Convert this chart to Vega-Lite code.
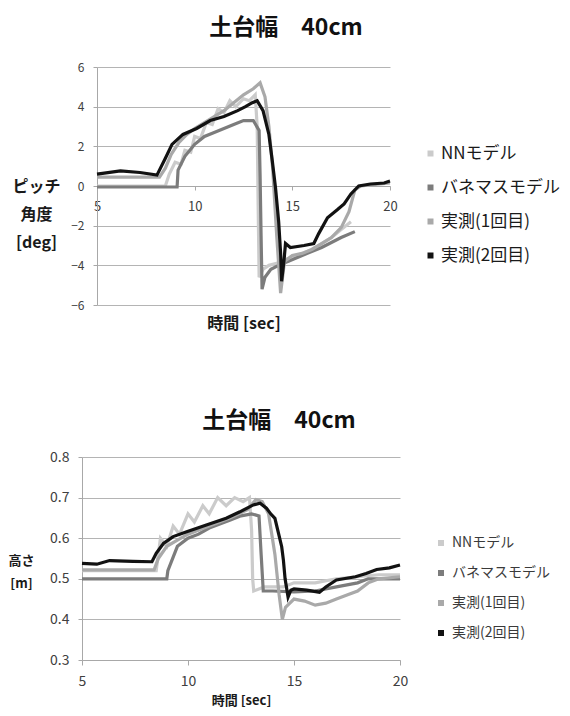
{
  "$schema": "https://vega.github.io/schema/vega-lite/v6.json",
  "background": "white",
  "padding": {"left": 7, "top": 17, "right": 5, "bottom": 5},
  "spacing": 79,
  "config": {
    "font": "Noto Sans CJK JP",
    "view": {"stroke": null},
    "axis": {"gridColor": "#b4b4b4", "domainColor": "#a8a8a8", "tickColor": "#a8a8a8", "labelColor": "#404040", "titleColor": "#1a1a1a", "labelFont": "Noto Sans CJK JP"}
  },
  "resolve": {"scale": {"color": "independent"}, "legend": {"color": "independent"}},
  "datasets": {
    "pitch": [
      {"s": "NNモデル", "t": 5, "v": 0}, {"s": "NNモデル", "t": 8.5, "v": 0}, {"s": "NNモデル", "t": 8.7, "v": 0.6}, {"s": "NNモデル", "t": 9.0, "v": 1.2}, {"s": "NNモデル", "t": 9.3, "v": 1.1}, {"s": "NNモデル", "t": 9.5, "v": 1.8}, {"s": "NNモデル", "t": 9.8, "v": 1.7}, {"s": "NNモデル", "t": 10, "v": 2.5}, {"s": "NNモデル", "t": 10.3, "v": 2.4}, {"s": "NNモデル", "t": 10.6, "v": 3.2}, {"s": "NNモデル", "t": 10.9, "v": 3.1}, {"s": "NNモデル", "t": 11.2, "v": 3.9}, {"s": "NNモデル", "t": 11.5, "v": 3.7}, {"s": "NNモデル", "t": 11.8, "v": 4.3}, {"s": "NNモデル", "t": 12.1, "v": 4.0}, {"s": "NNモデル", "t": 12.5, "v": 4.4}, {"s": "NNモデル", "t": 12.8, "v": 4.3}, {"s": "NNモデル", "t": 13.1, "v": 4.6}, {"s": "NNモデル", "t": 13.2, "v": 3.0}, {"s": "NNモデル", "t": 13.25, "v": -1.0}, {"s": "NNモデル", "t": 13.3, "v": -4.6}, {"s": "NNモデル", "t": 13.5, "v": -4.2}, {"s": "NNモデル", "t": 13.8, "v": -4.0}, {"s": "NNモデル", "t": 14.2, "v": -3.9}, {"s": "NNモデル", "t": 14.6, "v": -3.7}, {"s": "NNモデル", "t": 15, "v": -3.6}, {"s": "NNモデル", "t": 15.5, "v": -3.4}, {"s": "NNモデル", "t": 16, "v": -3.2}, {"s": "NNモデル", "t": 16.5, "v": -2.9}, {"s": "NNモデル", "t": 17, "v": -2.6}, {"s": "NNモデル", "t": 17.5, "v": -2.2}, {"s": "NNモデル", "t": 18.0, "v": -1.8},
      {"s": "バネマスモデル", "t": 5, "v": -0.05}, {"s": "バネマスモデル", "t": 9.1, "v": -0.05}, {"s": "バネマスモデル", "t": 9.15, "v": 0.8}, {"s": "バネマスモデル", "t": 9.5, "v": 1.5}, {"s": "バネマスモデル", "t": 10, "v": 2.1}, {"s": "バネマスモデル", "t": 10.5, "v": 2.5}, {"s": "バネマスモデル", "t": 11, "v": 2.7}, {"s": "バネマスモデル", "t": 11.5, "v": 2.9}, {"s": "バネマスモデル", "t": 12, "v": 3.1}, {"s": "バネマスモデル", "t": 12.5, "v": 3.3}, {"s": "バネマスモデル", "t": 13.0, "v": 3.3}, {"s": "バネマスモデル", "t": 13.3, "v": 2.8}, {"s": "バネマスモデル", "t": 13.35, "v": 0.5}, {"s": "バネマスモデル", "t": 13.4, "v": -2.5}, {"s": "バネマスモデル", "t": 13.45, "v": -5.2}, {"s": "バネマスモデル", "t": 13.6, "v": -4.6}, {"s": "バネマスモデル", "t": 13.9, "v": -4.2}, {"s": "バネマスモデル", "t": 14.3, "v": -4.0}, {"s": "バネマスモデル", "t": 14.8, "v": -3.8}, {"s": "バネマスモデル", "t": 15.5, "v": -3.5}, {"s": "バネマスモデル", "t": 16.5, "v": -3.1}, {"s": "バネマスモデル", "t": 17.5, "v": -2.6}, {"s": "バネマスモデル", "t": 18.2, "v": -2.3},
      {"s": "実測(1回目)", "t": 5, "v": 0.45}, {"s": "実測(1回目)", "t": 8.2, "v": 0.45}, {"s": "実測(1回目)", "t": 8.5, "v": 0.9}, {"s": "実測(1回目)", "t": 8.8, "v": 1.6}, {"s": "実測(1回目)", "t": 9.2, "v": 2.2}, {"s": "実測(1回目)", "t": 9.6, "v": 2.6}, {"s": "実測(1回目)", "t": 10, "v": 2.9}, {"s": "実測(1回目)", "t": 10.5, "v": 3.2}, {"s": "実測(1回目)", "t": 11, "v": 3.5}, {"s": "実測(1回目)", "t": 11.5, "v": 3.8}, {"s": "実測(1回目)", "t": 12, "v": 4.2}, {"s": "実測(1回目)", "t": 12.5, "v": 4.6}, {"s": "実測(1回目)", "t": 13, "v": 4.9}, {"s": "実測(1回目)", "t": 13.35, "v": 5.2}, {"s": "実測(1回目)", "t": 13.6, "v": 4.5}, {"s": "実測(1回目)", "t": 13.8, "v": 3.0}, {"s": "実測(1回目)", "t": 14.0, "v": 0.8}, {"s": "実測(1回目)", "t": 14.2, "v": -2.5}, {"s": "実測(1回目)", "t": 14.4, "v": -5.4}, {"s": "実測(1回目)", "t": 14.6, "v": -3.8}, {"s": "実測(1回目)", "t": 15, "v": -3.5}, {"s": "実測(1回目)", "t": 15.5, "v": -3.4}, {"s": "実測(1回目)", "t": 16, "v": -3.2}, {"s": "実測(1回目)", "t": 16.5, "v": -2.9}, {"s": "実測(1回目)", "t": 17, "v": -2.6}, {"s": "実測(1回目)", "t": 17.5, "v": -2.1}, {"s": "実測(1回目)", "t": 17.9, "v": -1.3}, {"s": "実測(1回目)", "t": 18.2, "v": -0.2}, {"s": "実測(1回目)", "t": 18.5, "v": 0}, {"s": "実測(1回目)", "t": 19, "v": 0.05}, {"s": "実測(1回目)", "t": 19.5, "v": 0.1}, {"s": "実測(1回目)", "t": 20, "v": 0.15},
      {"s": "実測(2回目)", "t": 5, "v": 0.6}, {"s": "実測(2回目)", "t": 6.2, "v": 0.76}, {"s": "実測(2回目)", "t": 7.2, "v": 0.68}, {"s": "実測(2回目)", "t": 8.07, "v": 0.55}, {"s": "実測(2回目)", "t": 8.5, "v": 1.4}, {"s": "実測(2回目)", "t": 8.84, "v": 2.1}, {"s": "実測(2回目)", "t": 9.4, "v": 2.6}, {"s": "実測(2回目)", "t": 10.1, "v": 2.9}, {"s": "実測(2回目)", "t": 10.8, "v": 3.3}, {"s": "実測(2回目)", "t": 11.5, "v": 3.5}, {"s": "実測(2回目)", "t": 12.2, "v": 3.8}, {"s": "実測(2回目)", "t": 12.6, "v": 4.0}, {"s": "実測(2回目)", "t": 12.95, "v": 4.2}, {"s": "実測(2回目)", "t": 13.2, "v": 4.3}, {"s": "実測(2回目)", "t": 13.5, "v": 3.8}, {"s": "実測(2回目)", "t": 13.8, "v": 2.6}, {"s": "実測(2回目)", "t": 13.97, "v": 1.3}, {"s": "実測(2回目)", "t": 14.14, "v": -0.1}, {"s": "実測(2回目)", "t": 14.3, "v": -1.8}, {"s": "実測(2回目)", "t": 14.4, "v": -3.4}, {"s": "実測(2回目)", "t": 14.45, "v": -4.8}, {"s": "実測(2回目)", "t": 14.57, "v": -3.8}, {"s": "実測(2回目)", "t": 14.65, "v": -2.9}, {"s": "実測(2回目)", "t": 14.9, "v": -3.1}, {"s": "実測(2回目)", "t": 15.6, "v": -3.0}, {"s": "実測(2回目)", "t": 16.1, "v": -2.9}, {"s": "実測(2回目)", "t": 16.35, "v": -2.4}, {"s": "実測(2回目)", "t": 16.8, "v": -1.6}, {"s": "実測(2回目)", "t": 17.3, "v": -1.2}, {"s": "実測(2回目)", "t": 17.65, "v": -0.9}, {"s": "実測(2回目)", "t": 18.0, "v": -0.4}, {"s": "実測(2回目)", "t": 18.4, "v": 0}, {"s": "実測(2回目)", "t": 19.0, "v": 0.1}, {"s": "実測(2回目)", "t": 19.7, "v": 0.15}, {"s": "実測(2回目)", "t": 20, "v": 0.25}
    ],
    "height": [
      {"s": "NNモデル", "t": 5, "v": 0.52}, {"s": "NNモデル", "t": 8.5, "v": 0.52}, {"s": "NNモデル", "t": 8.7, "v": 0.6}, {"s": "NNモデル", "t": 9, "v": 0.58}, {"s": "NNモデル", "t": 9.3, "v": 0.63}, {"s": "NNモデル", "t": 9.6, "v": 0.61}, {"s": "NNモデル", "t": 10, "v": 0.66}, {"s": "NNモデル", "t": 10.3, "v": 0.64}, {"s": "NNモデル", "t": 10.7, "v": 0.68}, {"s": "NNモデル", "t": 11, "v": 0.66}, {"s": "NNモデル", "t": 11.4, "v": 0.7}, {"s": "NNモデル", "t": 11.8, "v": 0.68}, {"s": "NNモデル", "t": 12.2, "v": 0.7}, {"s": "NNモデル", "t": 12.6, "v": 0.69}, {"s": "NNモデル", "t": 12.9, "v": 0.7}, {"s": "NNモデル", "t": 13.0, "v": 0.62}, {"s": "NNモデル", "t": 13.05, "v": 0.5}, {"s": "NNモデル", "t": 13.1, "v": 0.47}, {"s": "NNモデル", "t": 13.6, "v": 0.48}, {"s": "NNモデル", "t": 14.5, "v": 0.48}, {"s": "NNモデル", "t": 15, "v": 0.49}, {"s": "NNモデル", "t": 16, "v": 0.49}, {"s": "NNモデル", "t": 17, "v": 0.5}, {"s": "NNモデル", "t": 18, "v": 0.505}, {"s": "NNモデル", "t": 19, "v": 0.51}, {"s": "NNモデル", "t": 20, "v": 0.51},
      {"s": "バネマスモデル", "t": 5, "v": 0.5}, {"s": "バネマスモデル", "t": 9.0, "v": 0.5}, {"s": "バネマスモデル", "t": 9.05, "v": 0.52}, {"s": "バネマスモデル", "t": 9.5, "v": 0.58}, {"s": "バネマスモデル", "t": 10, "v": 0.6}, {"s": "バネマスモデル", "t": 10.5, "v": 0.61}, {"s": "バネマスモデル", "t": 11, "v": 0.625}, {"s": "バネマスモデル", "t": 11.5, "v": 0.635}, {"s": "バネマスモデル", "t": 12, "v": 0.645}, {"s": "バネマスモデル", "t": 12.5, "v": 0.655}, {"s": "バネマスモデル", "t": 13, "v": 0.66}, {"s": "バネマスモデル", "t": 13.35, "v": 0.655}, {"s": "バネマスモデル", "t": 13.45, "v": 0.56}, {"s": "バネマスモデル", "t": 13.55, "v": 0.47}, {"s": "バネマスモデル", "t": 14, "v": 0.47}, {"s": "バネマスモデル", "t": 15, "v": 0.468}, {"s": "バネマスモデル", "t": 16, "v": 0.47}, {"s": "バネマスモデル", "t": 17, "v": 0.48}, {"s": "バネマスモデル", "t": 18, "v": 0.49}, {"s": "バネマスモデル", "t": 18.5, "v": 0.5}, {"s": "バネマスモデル", "t": 20, "v": 0.5},
      {"s": "実測(1回目)", "t": 5, "v": 0.522}, {"s": "実測(1回目)", "t": 8.4, "v": 0.522}, {"s": "実測(1回目)", "t": 8.6, "v": 0.55}, {"s": "実測(1回目)", "t": 9, "v": 0.58}, {"s": "実測(1回目)", "t": 9.5, "v": 0.595}, {"s": "実測(1回目)", "t": 10, "v": 0.61}, {"s": "実測(1回目)", "t": 11, "v": 0.63}, {"s": "実測(1回目)", "t": 12, "v": 0.65}, {"s": "実測(1回目)", "t": 12.8, "v": 0.67}, {"s": "実測(1回目)", "t": 13.2, "v": 0.695}, {"s": "実測(1回目)", "t": 13.5, "v": 0.69}, {"s": "実測(1回目)", "t": 13.8, "v": 0.66}, {"s": "実測(1回目)", "t": 14.1, "v": 0.56}, {"s": "実測(1回目)", "t": 14.3, "v": 0.46}, {"s": "実測(1回目)", "t": 14.45, "v": 0.4}, {"s": "実測(1回目)", "t": 14.6, "v": 0.43}, {"s": "実測(1回目)", "t": 15, "v": 0.45}, {"s": "実測(1回目)", "t": 15.5, "v": 0.445}, {"s": "実測(1回目)", "t": 16, "v": 0.435}, {"s": "実測(1回目)", "t": 16.5, "v": 0.44}, {"s": "実測(1回目)", "t": 17, "v": 0.45}, {"s": "実測(1回目)", "t": 17.5, "v": 0.46}, {"s": "実測(1回目)", "t": 18, "v": 0.47}, {"s": "実測(1回目)", "t": 18.5, "v": 0.49}, {"s": "実測(1回目)", "t": 19, "v": 0.5}, {"s": "実測(1回目)", "t": 20, "v": 0.505},
      {"s": "実測(2回目)", "t": 5, "v": 0.538}, {"s": "実測(2回目)", "t": 5.7, "v": 0.536}, {"s": "実測(2回目)", "t": 6.3, "v": 0.545}, {"s": "実測(2回目)", "t": 7.4, "v": 0.543}, {"s": "実測(2回目)", "t": 8.3, "v": 0.542}, {"s": "実測(2回目)", "t": 8.5, "v": 0.563}, {"s": "実測(2回目)", "t": 8.84, "v": 0.587}, {"s": "実測(2回目)", "t": 9.3, "v": 0.604}, {"s": "実測(2回目)", "t": 9.94, "v": 0.616}, {"s": "実測(2回目)", "t": 10.9, "v": 0.633}, {"s": "実測(2回目)", "t": 11.8, "v": 0.649}, {"s": "実測(2回目)", "t": 12.45, "v": 0.665}, {"s": "実測(2回目)", "t": 13.08, "v": 0.682}, {"s": "実測(2回目)", "t": 13.4, "v": 0.686}, {"s": "実測(2回目)", "t": 13.7, "v": 0.674}, {"s": "実測(2回目)", "t": 13.9, "v": 0.66}, {"s": "実測(2回目)", "t": 14.1, "v": 0.649}, {"s": "実測(2回目)", "t": 14.27, "v": 0.612}, {"s": "実測(2回目)", "t": 14.42, "v": 0.579}, {"s": "実測(2回目)", "t": 14.5, "v": 0.546}, {"s": "実測(2回目)", "t": 14.58, "v": 0.5}, {"s": "実測(2回目)", "t": 14.72, "v": 0.455}, {"s": "実測(2回目)", "t": 14.85, "v": 0.472}, {"s": "実測(2回目)", "t": 15.0, "v": 0.475}, {"s": "実測(2回目)", "t": 15.6, "v": 0.472}, {"s": "実測(2回目)", "t": 16.2, "v": 0.467}, {"s": "実測(2回目)", "t": 16.5, "v": 0.48}, {"s": "実測(2回目)", "t": 17.0, "v": 0.497}, {"s": "実測(2回目)", "t": 17.9, "v": 0.505}, {"s": "実測(2回目)", "t": 18.4, "v": 0.513}, {"s": "実測(2回目)", "t": 18.9, "v": 0.523}, {"s": "実測(2回目)", "t": 19.5, "v": 0.527}, {"s": "実測(2回目)", "t": 20, "v": 0.534}
    ]
  },
  "vconcat": [
    {
      "title": {"text": "土台幅　40cm", "fontSize": 23, "fontWeight": "bold", "color": "#111111", "anchor": "middle", "frame": "bounds", "offset": 21},
      "width": 308,
      "height": 238,
      "data": {"name": "pitch"},
      "mark": {"type": "line", "strokeWidth": 3.2},
      "encoding": {
        "x": {
          "field": "t", "type": "quantitative",
          "scale": {"domain": [5, 20], "nice": false, "zero": false, "range": [15, 308]},
          "axis": {"values": [5, 10, 15, 20], "offset": -119, "grid": false, "tickSize": 4, "labelFontSize": 13, "labelPadding": 10, "labelFlush": false,
                   "title": "時間 [sec]", "titleFontSize": 16, "titleFontWeight": "bold", "titleY": 137, "titleBaseline": "middle"}
        },
        "y": {
          "field": "v", "type": "quantitative",
          "scale": {"domain": [-6, 6], "nice": false},
          "axis": {"values": [-6, -4, -2, 0, 2, 4, 6], "offset": -15, "tickSize": 4, "labelFontSize": 12, "labelPadding": 9,
                   "title": ["ピッチ", "角度", "[deg]"], "titleAngle": 0, "titleAlign": "center", "titleBaseline": "middle",
                   "titleX": -61, "titleY": 119, "titleLineHeight": 28, "titleFontSize": 16, "titleFontWeight": "bold"}
        },
        "color": {
          "field": "s", "type": "nominal",
          "scale": {"domain": ["NNモデル", "バネマスモデル", "実測(1回目)", "実測(2回目)"], "range": ["#cbcbcb", "#7c7c7c", "#a9a9a9", "#121212"]},
          "legend": {"title": null, "orient": "none", "legendX": 340, "legendY": 78, "padding": 0, "symbolType": "square", "symbolSize": 9, "symbolStrokeWidth": 3, "labelFontSize": 17, "labelColor": "#1a1a1a", "labelOffset": 2, "rowPadding": 16}
        }
      }
    },
    {
      "title": {"text": "土台幅　40cm", "fontSize": 23, "fontWeight": "bold", "color": "#111111", "anchor": "middle", "frame": "bounds", "offset": 17},
      "width": 318,
      "height": 203,
      "data": {"name": "height"},
      "mark": {"type": "line", "strokeWidth": 3.2},
      "encoding": {
        "x": {
          "field": "t", "type": "quantitative",
          "scale": {"domain": [5, 20], "nice": false, "zero": false},
          "axis": {"values": [5, 10, 15, 20], "grid": false, "tickSize": 5, "labelFontSize": 14, "labelPadding": 9, "labelFlush": false,
                   "title": "時間 [sec]", "titleFontSize": 13, "titleFontWeight": "bold", "titlePadding": 6}
        },
        "y": {
          "field": "v", "type": "quantitative",
          "scale": {"domain": [0.3, 0.8], "nice": false, "zero": false},
          "axis": {"values": [0.3, 0.4, 0.5, 0.6, 0.7, 0.8], "format": ".1f", "tickSize": 4, "labelFontSize": 14, "labelPadding": 9,
                   "title": ["高さ", "[m]"], "titleAngle": 0, "titleAlign": "center", "titleBaseline": "middle",
                   "titleX": -61, "titleY": 103, "titleLineHeight": 23, "titleFontSize": 13, "titleFontWeight": "bold"}
        },
        "color": {
          "field": "s", "type": "nominal",
          "scale": {"domain": ["NNモデル", "バネマスモデル", "実測(1回目)", "実測(2回目)"], "range": ["#cbcbcb", "#7c7c7c", "#a9a9a9", "#121212"]},
          "legend": {"title": null, "orient": "none", "legendX": 352, "legendY": 79, "padding": 0, "symbolType": "square", "symbolSize": 9, "symbolStrokeWidth": 3, "labelFontSize": 14, "labelColor": "#3a3a3a", "labelOffset": 4, "rowPadding": 14}
        }
      }
    }
  ]
}
